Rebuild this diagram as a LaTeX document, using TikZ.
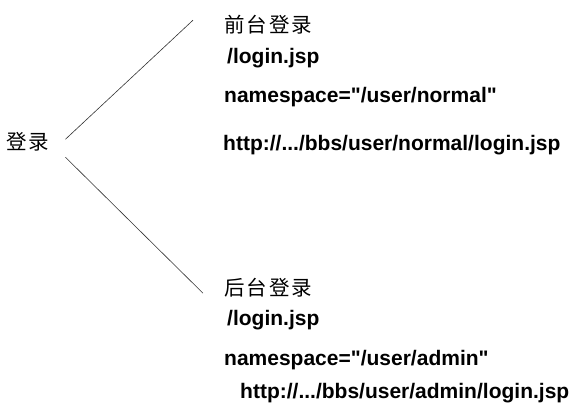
\documentclass[tikz,border=0pt]{standalone}
\usepackage{fontspec}
\setmainfont{Liberation Sans}[Ligatures=TeXOff]
\newfontfamily\hanfont{Noto Sans CJK SC}[LetterSpace=10]
\usepackage{tikz}

\begin{document}
\begin{tikzpicture}[x=1pt, y=-1pt,
  every node/.style={inner sep=0pt, anchor=base west},
  han/.style={font=\hanfont\fontsize{20.5}{24}\selectfont},
  path/.style={font=\bfseries\fontsize{21}{25}\selectfont},
  link/.style={line width=0.6pt, black!80}]

\useasboundingbox (0,0) rectangle (579,416);

\node [han]  (login)  at  (6, 149)  {登录};

% Front
\node [han]   (front)    at  (224, 32)   {前台登录};
\node [path]  (frontjsp) at  (227, 63)   {/login.jsp};
\node [path]  (frontns)  at  (224, 102)  {namespace="/user/normal"};
\node [path]  (fronturl) at  (223, 150)  {http://.../bbs/user/normal/login.jsp};

% Back
\node [han]   (back)     at  (224, 295)  {后台登录};
\node [path]  (backjsp)  at  (227, 325)  {/login.jsp};
\node [path]  (backns)   at  (224, 365)  {namespace="/user/admin"};
\node [path]  (backurl)  at  (240, 398)  {http://.../bbs/user/admin/login.jsp};

\draw [link]  ([shift={(16,-2)}]login.east) -- ([shift={(-31,-4)}]front.west);
\draw [link]  ([shift={(16,16)}]login.east) -- ([shift={(-21,6)}]back.west);

\end{tikzpicture}
\end{document}
